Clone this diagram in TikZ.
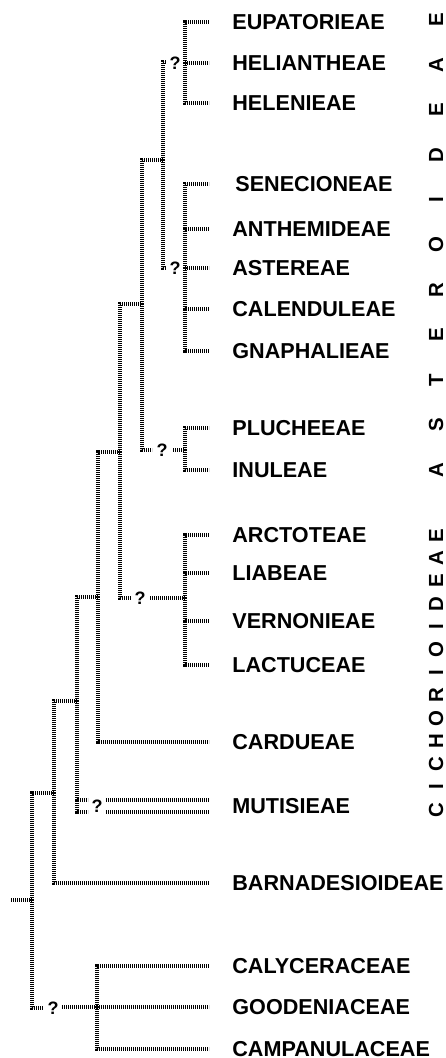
\documentclass[tikz,border=0pt]{standalone}
\usepackage{fontspec}
\setmainfont{Liberation Sans}
\usepackage{tikz}
\usetikzlibrary{positioning}

\begin{document}
\begin{tikzpicture}[
    x=0.5pt, y=-0.5pt,
    branch/.style={line width=1.6pt, black, dash pattern=on 0.55pt off 0.45pt},
    taxon/.style={anchor=west, inner sep=0pt,
                  font=\bfseries\fontsize{10.8}{12}\selectfont},
    qmark/.style={inner sep=0pt, font=\bfseries\fontsize{9}{10}\selectfont},
    subfam/.style={inner sep=0pt, rotate=90,
                   font=\bfseries\fontsize{10.2}{12}\selectfont},
]
  \useasboundingbox (0,0) rectangle (445,1058);

  %% ---- leaf tips (x = 209) and taxon labels (x = 232) ----
  \foreach \nm/\yy/\txt in {eup/22/EUPATORIEAE, hel/63/HELIANTHEAE, hln/103/HELENIEAE,
                            ant/229/ANTHEMIDEAE, ast/268/ASTEREAE,
                            cal/309/CALENDULEAE, gna/351/GNAPHALIEAE,
                            plu/428/PLUCHEEAE, inu/470/INULEAE,
                            arc/535/ARCTOTEAE, lia/573/LIABEAE,
                            ver/621/VERNONIEAE, lac/665/LACTUCEAE,
                            car/742/CARDUEAE, bar/883/BARNADESIOIDEAE,
                            caly/966/CALYCERACEAE, good/1007/GOODENIACEAE,
                            camp/1049/CAMPANULACEAE} {
    \coordinate (\nm) at (209,\yy);
    \node[taxon] (t-\nm) at (232,\yy) {\txt};
  }
  \coordinate (sen) at (209,184);
  \node[taxon] (t-sen) at (235,184) {SENECIONEAE};
  \coordinate (muta) at (209,800);
  \coordinate (mutb) at (209,812);
  \node[taxon] (t-mut) at (232,806) {MUTISIEAE};

  %% ---- internal junctions ----
  \coordinate (stub)    at (11,900);
  \coordinate (root)    at (32,900);
  \coordinate (n1)      at (54,793);
  \coordinate (n2)      at (77,701);
  \coordinate (n3)      at (98,597);
  \coordinate (n4)      at (120,452);
  \coordinate (n5)      at (142,304);
  \coordinate (n6)      at (163,160);
  \coordinate (helgrp)  at (185,63);
  \coordinate (astgrp)  at (185,268);
  \coordinate (plugrp)  at (185,450);
  \coordinate (cichgrp) at (185,598);
  \coordinate (campgrp) at (97,1007);

  %% ---- broken branches with "?" ----
  \coordinate (q1a) at (166,62);   \node[qmark] (q1) at (175,63) {?};
  \coordinate (q2a) at (166,268);  \node[qmark] (q2) at (175,268) {?};
  \coordinate (q3a) at (152,450);  \node[qmark] (q3) at (162,450) {?};
  \coordinate (q3b) at (173,450);
  \coordinate (q4a) at (131,598);  \node[qmark] (q4) at (140,598) {?};
  \coordinate (q4b) at (150,598);
  \coordinate (q5a) at (88,800);   \node[qmark] (q5) at (97,806) {?};
  \coordinate (q5b) at (88,812);
  \coordinate (q5c) at (106,800);
  \coordinate (q5d) at (106,812);
  \coordinate (q6a) at (43,1008);  \node[qmark] (q6) at (53,1008) {?};
  \coordinate (q6b) at (62,1007);

  %% ---- backbone ----
  \draw[branch] (stub) -- (root);
  \draw[branch] (root) |- (n1);
  \draw[branch] (root) |- (q6a);
  \draw[branch] (q6b) -- (campgrp);
  \draw[branch] (n1) |- (n2);
  \draw[branch] (n1) |- (bar);
  \draw[branch] (n2) |- (n3);
  \draw[branch] (n2) |- (q5a);
  \draw[branch] (n2) |- (q5b);
  \draw[branch] (q5c) -- (muta);
  \draw[branch] (q5d) -- (mutb);
  \draw[branch] (n3) |- (n4);
  \draw[branch] (n3) |- (car);
  \draw[branch] (n4) |- (n5);
  \draw[branch] (n4) |- (q4a);
  \draw[branch] (q4b) -- (cichgrp);
  \draw[branch] (n5) |- (n6);
  \draw[branch] (n5) |- (q3a);
  \draw[branch] (q3b) -- (plugrp);
  \draw[branch] (n6) |- (q1a);
  \draw[branch] (n6) |- (q2a);

  %% ---- terminal groups ----
  \foreach \lf in {eup, hel, hln} \draw[branch] (helgrp) |- (\lf);
  \foreach \lf in {sen, ant, ast, cal, gna} \draw[branch] (astgrp) |- (\lf);
  \foreach \lf in {plu, inu} \draw[branch] (plugrp) |- (\lf);
  \foreach \lf in {arc, lia, ver, lac} \draw[branch] (cichgrp) |- (\lf);
  \foreach \lf in {caly, good, camp} \draw[branch] (campgrp) |- (\lf);

  %% ---- subfamily names, spaced letters read bottom to top ----
  \foreach \ch [count=\i from 0] in {A,S,T,E,R,O,I,D,E,A,E}
    \node[subfam] (ast-\i) at (436, 470-45*\i) {\ch};
  \foreach \ch [count=\i from 0] in {C,I,C,H,O,R,I,O,I,D,E,A,E}
    \node[subfam] (cich-\i) at (436, 810-22.9*\i) {\ch};

\end{tikzpicture}
\end{document}
